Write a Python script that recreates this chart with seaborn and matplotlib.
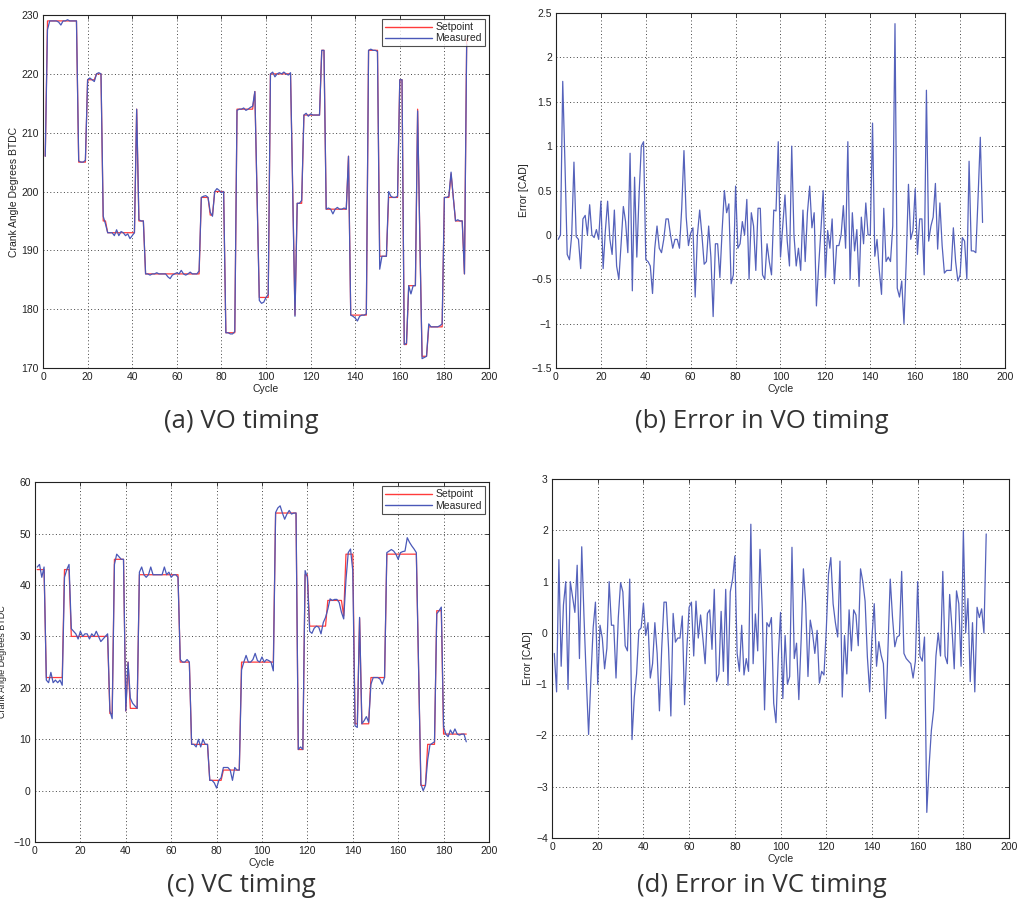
import numpy as np
import pandas as pd
import seaborn as sns
import matplotlib
matplotlib.use("Agg")
import matplotlib.pyplot as plt
from matplotlib.ticker import FuncFormatter, MultipleLocator

# ---------------- data ----------------
CYCLES = list(range(1, 191))

# (a) VO timing setpoint as step levels and their durations (cycles)
VO_SET_LEVELS = [206, 229, 205, 219, 220, 195, 193, 214, 195, 186, 199, 196, 200, 176, 214, 217, 199,
                 182, 220, 200, 179, 198, 213, 224, 197, 206, 179, 224, 189, 199, 219, 174, 184, 214,
                 192, 172, 177, 199, 203, 199, 195, 186, 226]
VO_SET_LENGTHS = [1, 14, 4, 4, 3, 2, 13, 1, 3, 25, 4, 2, 5, 5, 8, 1, 1,
                  5, 10, 1, 1, 3, 8, 2, 10, 1, 8, 5, 4, 5, 2, 2, 4, 1,
                  1, 3, 7, 3, 1, 1, 4, 1, 1]

VO_MEASURED = [
    206, 227.5, 229, 229, 229, 229, 228.8, 228.3, 229, 229,
    229.2, 229, 229, 229, 229, 205.2, 205, 205, 205.3, 219,
    219.3, 219, 218.7, 220, 220.2, 220, 195.8, 194.5, 193, 193,
    193, 192.5, 193.5, 192.5, 193.2, 193, 192.5, 192.8, 192, 192.5,
    193, 214, 195.2, 195, 195, 186, 186, 185.8, 186, 186,
    186.2, 186, 186, 186, 186, 185.5, 185.2, 185.8, 186, 186.2,
    186, 186.6, 186, 185.8, 186, 186.3, 186, 186, 186, 186.5,
    199, 199.2, 199.3, 199, 196.5, 195.8, 200, 200.5, 200.2, 199.8,
    200, 176, 176, 175.8, 175.8, 176.2, 213.8, 214, 214, 214.2,
    213.8, 214, 214.3, 214.5, 217, 199, 181.5, 181, 181.2, 182,
    182.5, 220, 220.3, 219.5, 220, 220.2, 220, 220.3, 220, 219.8,
    220.2, 200, 178.8, 198, 198, 198.5, 213, 213.3, 212.8, 213.2,
    213, 213, 213, 213, 224, 224, 197, 197.2, 197, 196.2,
    197, 197.3, 197, 197, 197.2, 197, 206, 179, 178.8, 178.5,
    178, 178.8, 179, 179, 179.2, 224, 224.2, 224, 224, 223.8,
    186.8, 189, 189, 189, 200, 199.2, 199, 199, 199.2, 219,
    219, 174, 174.2, 184, 182.6, 184, 184, 213.7, 192, 171.6,
    171.8, 172, 177.5, 177, 177, 177, 177, 177.2, 177.5, 199,
    199, 199.2, 203.3, 199, 195, 195.2, 195, 195, 186, 225,
]

# (b) error in VO timing
VO_ERROR = [
    -0.05, 0.0, 1.73, 0.8, -0.22, -0.28, 0.0, 0.82, -0.02, -0.05,
    -0.38, 0.18, 0.22, 0.0, 0.34, 0.0, -0.03, 0.06, -0.05, 0.38,
    -0.38, 0.05, 0.38, -0.05, -0.22, 0.28, -0.35, -0.5, -0.1, 0.32,
    0.15, -0.2, 0.92, -0.63, 0.65, -0.25, 0.45, 1.0, 1.05, -0.28,
    -0.3, -0.35, -0.66, -0.15, 0.1, -0.15, -0.2, -0.05, 0.18, 0.18,
    0.0, -0.15, -0.05, -0.05, -0.15, 0.3, 0.95, 0.2, -0.12, 0.02,
    0.08, -0.7, 0.0, 0.28, 0.0, -0.33, -0.3, 0.1, -0.25, -0.92,
    -0.1, -0.1, -0.48, 0.05, 0.5, 0.25, 0.35, -0.55, -0.45, 0.55,
    -0.15, -0.1, 0.15, 0.0, 0.4, -0.5, 0.25, 0.1, -0.4, 0.3,
    0.3, -0.45, -0.5, -0.1, -0.3, -0.45, 0.28, 0.27, 1.05, -0.25,
    0.1, 0.45, -0.07, -0.35, 1.0, 0.0, -0.35, -0.15, -0.4, 0.28,
    -0.3, 0.25, 0.55, 0.08, 0.25, -0.8, -0.35, 0.05, 0.5, -0.48,
    0.05, -0.15, 0.18, -0.55, -0.12, -0.12, 0.0, 0.33, -0.15, 1.05,
    -0.5, 0.25, -0.18, 0.06, -0.58, 0.2, -0.1, 0.36, 0.0, 0.0,
    1.26, -0.24, -0.05, -0.4, -0.67, 0.3, -0.3, -0.25, -0.3, 0.1,
    2.38, -0.6, -0.7, -0.52, -1.0, -0.3, 0.57, -0.05, 0.05, 0.52,
    -0.22, 0.18, 0.18, -0.45, 1.63, -0.07, 0.1, 0.2, 0.58, -0.16,
    0.36, -0.12, -0.43, -0.4, -0.4, -0.4, 0.08, -0.3, -0.52, -0.45,
    -0.03, -0.07, -0.5, 0.83, -0.18, -0.18, -0.2, 0.42, 1.1, 0.14,
]

# (c) VC timing setpoint as step levels and durations
VC_SET_LEVELS = [43, 22, 43, 30, 15, 45, 15.5, 25, 16, 42, 25, 9, 2, 4, 25, 54, 8, 42, 32, 37, 34,
                 46, 13, 33.5, 13, 22, 46, 24, 1, 9, 35, 11]
VC_SET_LENGTHS = [4, 8, 3, 17, 2, 5, 1, 1, 4, 18, 5, 8, 6, 8, 15, 10, 3, 2, 8, 7, 1,
                  4, 2, 1, 4, 7, 14, 1, 3, 4, 3, 11]

VC_MEASURED = [
    43.5, 44, 41.5, 43.5, 21.5, 21, 23, 21, 21.5, 21,
    21.5, 20.5, 41.5, 43, 44, 31.5, 31, 30.5, 29.5, 31,
    30, 30.5, 30.5, 29.5, 30.5, 30, 31, 30, 29, 29.5,
    30, 30.5, 15.5, 14, 44, 46, 45.5, 45, 45, 15.5,
    25, 18, 17, 16.5, 16, 42.5, 43.5, 42, 41.5, 42,
    43.5, 42, 42, 42, 42, 42, 43.5, 42, 42.5, 41.5,
    42, 42, 41.5, 25.5, 25, 25, 25.5, 25, 9, 9,
    8.5, 10, 8.5, 10, 9, 9, 2, 2, 1.5, 0.5,
    2, 2.5, 4.5, 4.5, 4.5, 4, 2, 4.5, 4, 4,
    23.5, 25, 26.3, 25, 25, 25.5, 26.7, 25.3, 25, 26,
    25, 25.5, 25.3, 25, 23.3, 54.1, 55, 55.4, 54, 52.8,
    53.8, 54.5, 53.8, 54, 54, 8, 8.5, 8, 42.8, 41.5,
    31, 30.6, 31.6, 32, 31.8, 30.5, 32.7, 33.7, 35.3, 37.3,
    37, 37.2, 37.2, 36.6, 34.7, 33.4, 41, 46.3, 47, 42.8,
    12.6, 12.3, 33.7, 13, 13.6, 14.4, 13.3, 20.7, 22, 22,
    22, 21.7, 20.7, 22, 46.3, 46.6, 46.9, 46.6, 46, 45,
    46.3, 46.5, 46.6, 49.2, 48.3, 47.6, 47, 46.3, 24, 1.3,
    0, 1, 6, 8.9, 9.2, 9.5, 34.4, 35, 35.7, 12.4,
    11, 10.5, 11.8, 11, 12, 11, 10.8, 11, 11, 9.5,
]

# (d) error in VC timing
VC_ERROR = [
    -0.4, -1.15, 1.43, -0.65, 0.55, 1.0, -1.1, 1.0, 0.7, 0.4,
    1.32, -0.5, 1.68, 0.3, -0.9, -1.98, -0.9, 0.1, 0.6, -1.0,
    0.15, -0.1, -0.7, -0.3, 1.0, 0.15, 0.15, -0.88, 0.3, 0.98,
    0.8, -0.25, -0.35, 1.05, -2.08, -1.25, -0.8, 0.05, 0.1, 0.58,
    -0.05, 0.2, -0.88, -0.6, 0.2, -0.4, -1.52, -0.3, 0.6, 0.6,
    -0.3, -1.62, 0.38, -0.18, -0.1, -0.1, 0.33, -1.4, -0.3, 0.5,
    0.6, -0.45, 0.62, -0.1, 0.35, -0.1, -0.6, 0.38, 0.45, -0.32,
    0.85, -0.95, -0.8, 0.42, -0.75, 0.85, -1.02, 0.8, 1.05, 1.5,
    -0.4, -0.75, 0.15, -0.82, -0.5, -0.75, 2.12, -0.6, 0.37, -0.35,
    1.63, 0.45, -1.5, 0.2, 0.12, 0.3, -1.37, -1.75, -0.47, 0.4,
    -1.28, -0.05, -1.0, -0.85, 1.67, -0.5, -0.2, -1.3, -0.15, 1.25,
    0.57, -0.85, 0.25, 0.0, -0.4, 0.05, -0.98, -0.75, -0.82, 0.05,
    1.15, 1.47, 0.57, 0.2, -0.08, 1.4, -1.25, -0.05, -0.8, 0.45,
    -0.35, 0.45, 0.35, -0.25, 1.25, 1.0, 0.62, -0.47, -1.15, -0.08,
    0.57, -0.65, -0.17, -0.43, -0.6, -1.67, -0.3, 1.05, 0.3, -0.27,
    -0.08, -0.05, 1.2, -0.4, -0.5, -0.55, -0.6, -0.88, -0.55, 1.0,
    -0.45, -0.55, -0.08, -3.5, -2.6, -1.9, -1.5, -0.45, 0.0, -0.45,
    1.2, -0.45, -0.6, 0.75, 0.1, -0.7, 0.82, 0.57, -0.65, 2.0,
    0.0, 0.67, -0.95, 0.2, -1.15, 0.5, 0.3, 0.47, 0.0, 1.93,
]

CAPTIONS = ["(a) VO timing", "(b) Error in VO timing", "(c) VC timing", "(d) Error in VC timing"]

# ---------------- style ----------------
sns.set_theme(style="white")
plt.rcParams["font.family"] = ["Liberation Sans", "DejaVu Sans"]
plt.rcParams["axes.unicode_minus"] = True

RED = "#ff3b3b"
BLUE = "#4a58b8"
ERR_BLUE = "#5562bb"

fig = plt.figure(figsize=(10.17, 9.11), dpi=100)

positions = {
    "a": [0.0423, 0.596, 0.4385, 0.3875],
    "b": [0.5467, 0.596, 0.4415, 0.3897],
    "c": [0.0344, 0.0757, 0.4464, 0.3950],
    "d": [0.5428, 0.0801, 0.4494, 0.3940],
}


def minus_fmt(v, pos):
    s = "%g" % v
    return s.replace("-", "\u2212")


def style_axes(ax, ylim, ystep, ylabel):
    ax.set_xlim(0, 200)
    ax.set_ylim(*ylim)
    ax.xaxis.set_major_locator(MultipleLocator(20))
    ax.yaxis.set_major_locator(MultipleLocator(ystep))
    ax.yaxis.set_major_formatter(FuncFormatter(minus_fmt))
    ax.xaxis.set_major_formatter(FuncFormatter(minus_fmt))
    ax.grid(True, color="#444444", linestyle=(0, (1, 2.5)), linewidth=0.7)
    ax.tick_params(direction="in", top=True, right=True, length=3, width=0.6,
                   labelsize=7.5, pad=3, colors="#222222")
    for sp in ax.spines.values():
        sp.set_color("#222222")
        sp.set_linewidth(0.8)
    ax.set_xlabel("Cycle", fontsize=7.5, labelpad=1, color="#222222")
    ax.set_ylabel(ylabel, fontsize=7.5, labelpad=2, color="#222222")


def tracking_panel(ax, levels, lengths, measured, ylim, ystep):
    setpoint = np.repeat(levels, lengths)
    df = pd.DataFrame({"Cycle": CYCLES * 2,
                       "value": list(setpoint) + list(measured),
                       "series": ["Setpoint"] * len(CYCLES) + ["Measured"] * len(CYCLES)})
    sns.lineplot(data=df, x="Cycle", y="value", hue="series",
                 palette={"Setpoint": RED, "Measured": BLUE},
                 linewidth=0.9, ax=ax, legend=True)
    style_axes(ax, ylim, ystep, "Crank Angle Degrees BTDC")
    leg = ax.legend(loc="upper right", fontsize=7.5, frameon=True, fancybox=False,
                    edgecolor="#222222", handlelength=4.5, borderpad=0.3,
                    labelspacing=0.1, borderaxespad=0.4, handletextpad=0.3)
    leg.get_frame().set_linewidth(0.8)
    for line in leg.get_lines():
        line.set_linewidth(1.0)


def error_panel(ax, err, ylim, ystep):
    df = pd.DataFrame({"Cycle": CYCLES, "err": err})
    sns.lineplot(data=df, x="Cycle", y="err", color=ERR_BLUE, linewidth=0.9, ax=ax)
    style_axes(ax, ylim, ystep, "Error [CAD]")


ax_a = fig.add_axes(positions["a"])
tracking_panel(ax_a, VO_SET_LEVELS, VO_SET_LENGTHS, VO_MEASURED, (170, 230), 10)

ax_b = fig.add_axes(positions["b"])
error_panel(ax_b, VO_ERROR, (-1.5, 2.5), 0.5)

ax_c = fig.add_axes(positions["c"])
tracking_panel(ax_c, VC_SET_LEVELS, VC_SET_LENGTHS, VC_MEASURED, (-10, 60), 10)
ax_c.yaxis.label.set_fontsize(6.5)
ax_c.yaxis.set_label_coords(-0.061, 0.5)

ax_d = fig.add_axes(positions["d"])
error_panel(ax_d, VC_ERROR, (-4, 3), 1)

cap_font = dict(fontsize=18.5, family=["Open Sans", "Lato", "DejaVu Sans"], weight="normal",
                color="#333333", ha="center", va="center")
fig.text(241 / 1017, 1 - 421 / 911, CAPTIONS[0], **cap_font)
fig.text(762 / 1017, 1 - 421 / 911, CAPTIONS[1], **cap_font)
fig.text(241 / 1017, 1 - 885 / 911, CAPTIONS[2], **cap_font)
fig.text(762 / 1017, 1 - 885 / 911, CAPTIONS[3], **cap_font)

fig.savefig("out.png", dpi=100, facecolor="white")
